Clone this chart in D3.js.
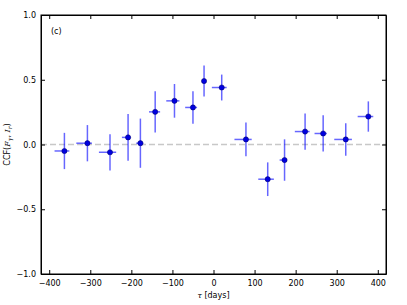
<!DOCTYPE html>
<html>
<head>
<meta charset="utf-8">
<script src="https://cdn.jsdelivr.net/npm/d3@7"></script>
<style>
  body { margin: 0; background: #fff; }
  text { font-family: "DejaVu Sans", sans-serif; }
</style>
</head>
<body>
<div id="viz"></div>
<script>
// lag (days), CCF value, vertical error, horizontal error (left / right, days)
const lags   = [-363, -307, -252, -208, -178, -142, -95, -50, -23, 20, 79, 132, 173, 223, 267, 322, 377];
const ccf    = [-0.05, 0.01, -0.06, 0.055, 0.01, 0.252, 0.337, 0.286, 0.49, 0.44, 0.039, -0.268, -0.12, 0.10, 0.085, 0.039, 0.216];
const yErr   = [0.14, 0.14, 0.14, 0.18, 0.19, 0.16, 0.13, 0.125, 0.12, 0.10, 0.13, 0.13, 0.16, 0.14, 0.14, 0.125, 0.117];
const xErrLo = [24, 27, 27, 15, 10, 15, 20, 19, 2, 24, 28, 23, 12, 25, 21, 28, 26];
const xErrHi = [12, 11, 15, 6, 7, 12, 12, 10, 2, 12, 14, 15, 3, 11, 9, 15, 12];
const xTicks = [-400, -300, -200, -100, 0, 100, 200, 300, 400];
const yTicks = [-1.0, -0.5, 0.0, 0.5, 1.0];

const data = lags.map((d, i) => ({x: d, y: ccf[i], ey: yErr[i], lo: xErrLo[i], hi: xErrHi[i]}));

const margin = {top: 15, right: 21, bottom: 31, left: 41},
      width = 407 - margin.left - margin.right,
      height = 305 - margin.top - margin.bottom;

const svg = d3.select("#viz")
    .append("svg")
    .attr("width", width + margin.left + margin.right)
    .attr("height", height + margin.top + margin.bottom)
    .append("g")
    .attr("transform", `translate(${margin.left},${margin.top})`);

const x = d3.scaleLinear().domain([-420, 420]).range([0, width]);
const y = d3.scaleLinear().domain([-1, 1]).range([height, 0]);

const fmtX = d => d3.format("d")(d).replace("-", "\u2212");
const fmtY = d => d3.format(".1f")(d).replace("-", "\u2212");

// zero line
svg.append("line")
    .attr("x1", 0).attr("x2", width)
    .attr("y1", y(0)).attr("y2", y(0))
    .attr("stroke", "#c8c8c8")
    .attr("stroke-width", 1.5)
    .attr("stroke-dasharray", "6,3");

// error bars
const g = svg.selectAll(".pt").data(data).enter().append("g").attr("class", "pt");
g.append("line")
    .attr("x1", d => x(d.x)).attr("x2", d => x(d.x))
    .attr("y1", d => y(d.y + d.ey)).attr("y2", d => y(d.y - d.ey))
    .attr("stroke", "#0000ff").attr("stroke-opacity", 0.6).attr("stroke-width", 1.5);
g.append("line")
    .attr("x1", d => x(d.x - d.lo)).attr("x2", d => x(d.x + d.hi))
    .attr("y1", d => y(d.y)).attr("y2", d => y(d.y))
    .attr("stroke", "#0000ff").attr("stroke-opacity", 0.6).attr("stroke-width", 1.5);
g.append("circle")
    .attr("cx", d => x(d.x)).attr("cy", d => y(d.y))
    .attr("r", 2.6)
    .attr("fill", "#0000e0")
    .attr("stroke", "#000060")
    .attr("stroke-width", 0.5);

// axes: ticks inward on all four sides
const tick = 4;
svg.append("g")
    .attr("transform", `translate(0,${height})`)
    .call(d3.axisBottom(x).tickValues(xTicks).tickFormat(fmtX).tickSizeInner(-tick).tickSizeOuter(0).tickPadding(6));
svg.append("g")
    .call(d3.axisTop(x).tickValues(xTicks).tickFormat("").tickSizeInner(-tick).tickSizeOuter(0));
svg.append("g")
    .call(d3.axisLeft(y).tickValues(yTicks).tickFormat(fmtY).tickSizeInner(-tick).tickSizeOuter(0).tickPadding(5));
svg.append("g")
    .attr("transform", `translate(${width},0)`)
    .call(d3.axisRight(y).tickValues(yTicks).tickFormat("").tickSizeInner(-tick).tickSizeOuter(0));

svg.selectAll(".domain").attr("stroke", "#000");
svg.selectAll(".tick text").attr("font-size", 8).attr("fill", "#000");
svg.selectAll(".tick line").attr("stroke", "#000");

// frame
svg.append("rect")
    .attr("width", width).attr("height", height)
    .attr("fill", "none").attr("stroke", "#000").attr("stroke-width", 1);

// panel label
svg.append("text")
    .attr("x", 10).attr("y", 19)
    .attr("font-size", 8)
    .text("(c)");

// axis labels
svg.append("text")
    .attr("x", width / 2).attr("y", height + 24)
    .attr("text-anchor", "middle")
    .attr("font-size", 8)
    .html('<tspan font-style="italic" font-family="DejaVu Serif">τ</tspan> [days]');

const yl = svg.append("text")
    .attr("transform", `translate(${-31},${height / 2}) rotate(-90)`)
    .attr("text-anchor", "middle")
    .attr("font-size", 8);
yl.append("tspan").text("CCF(");
yl.append("tspan").attr("font-style", "italic").attr("font-family", "DejaVu Serif").text("F");
yl.append("tspan").attr("font-style", "italic").attr("font-family", "DejaVu Serif").attr("font-size", 6).attr("dy", 2).text("γ");
yl.append("tspan").attr("dy", -2).text(", ");
yl.append("tspan").attr("font-style", "italic").attr("font-family", "DejaVu Serif").text("I");
yl.append("tspan").attr("font-style", "italic").attr("font-family", "DejaVu Serif").attr("font-size", 6).attr("dy", 2).text("r");
yl.append("tspan").attr("dy", -2).text(")");
</script>
</body>
</html>
